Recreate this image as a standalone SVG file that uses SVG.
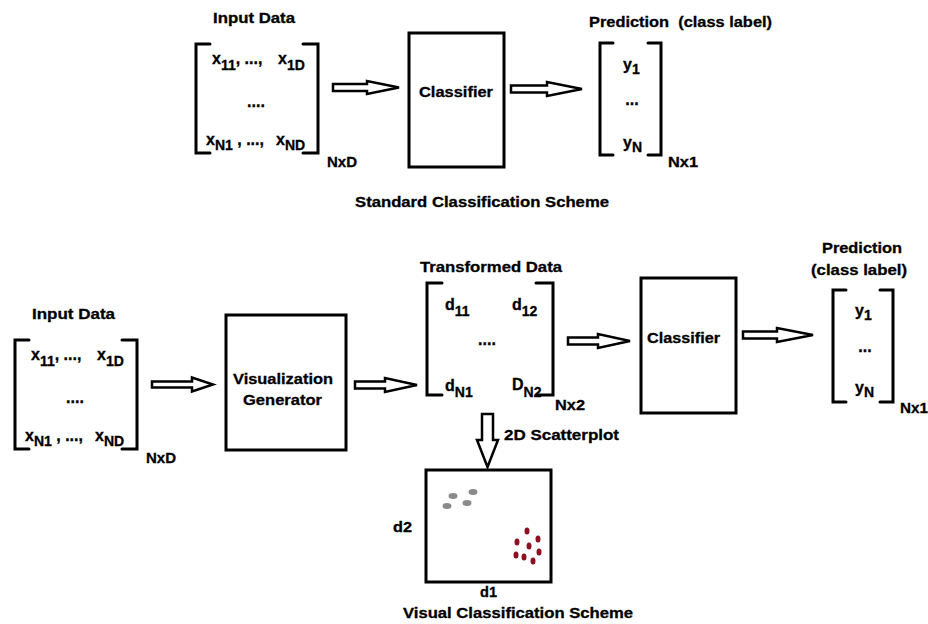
<svg xmlns="http://www.w3.org/2000/svg" width="928" height="624" viewBox="0 0 928 624">
  <defs>
    <style>
      text { font-family: "Liberation Sans", Arial, sans-serif; font-weight: bold; fill: #000; stroke: #000; stroke-width: 0.3; }
      .lbl { font-size: 15px; }
      .m { font-size: 16px; }
      .sb { font-size: 14px; }
      .box { fill: #fff; stroke: #000; stroke-width: 3; }
      .brk { fill: none; stroke: #000; stroke-width: 3; stroke-linecap: round; stroke-linejoin: miter; }
      .arw { fill: #fff; stroke: #000; stroke-width: 2.5; stroke-linejoin: miter; }
      .g { fill: #8a8a8a; }
      .r { fill: #8e0f22; }
    </style>
    <!-- input matrix N x D, reused for both schemes -->
    <g id="inputMatrix">
      <path class="brk" d="M210,44 H196 V153 H210"/>
      <path class="brk" d="M303,44 H318 V153 H303"/>
      <text class="m" x="212" y="64">x<tspan class="sb" dy="6">11</tspan><tspan dy="-6">, ...,</tspan></text>
      <text class="m" x="278" y="64">x<tspan class="sb" dy="6">1D</tspan></text>
      <text class="m" x="256" y="107" text-anchor="middle">....</text>
      <text class="m" x="206" y="145">x<tspan class="sb" dy="5">N1</tspan><tspan dy="-5"> , ...,</tspan></text>
      <text class="m" x="276" y="145">x<tspan class="sb" dy="5">ND</tspan></text>
      <text class="lbl" x="327" y="167" textLength="30" lengthAdjust="spacingAndGlyphs">NxD</text>
    </g>
  </defs>

  <!-- Standard classification scheme -->
  <g id="std-input">
    <text class="lbl" x="213" y="23" textLength="82" lengthAdjust="spacingAndGlyphs">Input Data</text>
    <use href="#inputMatrix"/>
  </g>

  <g id="std-classifier">
    <rect class="box" x="409" y="33" width="95" height="134"/>
    <text class="lbl" x="419" y="97" textLength="74" lengthAdjust="spacingAndGlyphs">Classifier</text>
  </g>

  <g id="std-prediction">
    <text class="lbl" x="589" y="27" textLength="183" lengthAdjust="spacingAndGlyphs" xml:space="preserve">Prediction  (class label)</text>
    <path class="brk" d="M613,43 H600 V155 H613"/>
    <path class="brk" d="M648,43 H661 V155 H648"/>
    <text class="m" x="623" y="70">y<tspan class="sb" dy="4">1</tspan></text>
    <text class="m" x="632" y="105" text-anchor="middle">...</text>
    <text class="m" x="623" y="148">y<tspan class="sb" dy="4">N</tspan></text>
    <text class="lbl" x="668" y="167" textLength="30" lengthAdjust="spacingAndGlyphs">Nx1</text>
  </g>

  <g id="std-caption">
    <text class="lbl" x="355" y="207" textLength="254" lengthAdjust="spacingAndGlyphs">Standard Classification Scheme</text>
  </g>

  <!-- Visual classification scheme -->
  <g id="vis-input">
    <text class="lbl" x="32" y="319" textLength="83" lengthAdjust="spacingAndGlyphs">Input Data</text>
    <use href="#inputMatrix" transform="translate(-181,296)"/>
  </g>

  <g id="vis-generator">
    <rect class="box" x="226" y="315" width="120" height="135"/>
    <text class="lbl" x="233" y="384" textLength="100" lengthAdjust="spacingAndGlyphs">Visualization</text>
    <text class="lbl" x="243" y="405" textLength="79" lengthAdjust="spacingAndGlyphs">Generator</text>
  </g>

  <g id="vis-transformed">
    <text class="lbl" x="420" y="272" textLength="142" lengthAdjust="spacingAndGlyphs">Transformed Data</text>
    <path class="brk" d="M442,283 H427 V395 H442"/>
    <path class="brk" d="M536,283 H553 V395 H536"/>
    <text class="m" x="445" y="310">d<tspan class="sb" dy="6">11</tspan></text>
    <text class="m" x="512" y="310">d<tspan class="sb" dy="6">12</tspan></text>
    <text class="m" x="487" y="345" text-anchor="middle">....</text>
    <text class="m" x="445" y="391">d<tspan class="sb" dy="6">N1</tspan></text>
    <text class="m" x="512" y="390">D<tspan class="sb" dy="7">N2</tspan></text>
    <text class="lbl" x="555" y="410" textLength="30" lengthAdjust="spacingAndGlyphs">Nx2</text>
  </g>

  <g id="vis-classifier">
    <rect class="box" x="641" y="278" width="95" height="135"/>
    <text class="lbl" x="647" y="343" textLength="73" lengthAdjust="spacingAndGlyphs">Classifier</text>
  </g>

  <g id="vis-prediction">
    <text class="lbl" x="862" y="253" text-anchor="middle" textLength="80" lengthAdjust="spacingAndGlyphs">Prediction</text>
    <text class="lbl" x="859" y="275" text-anchor="middle" textLength="96" lengthAdjust="spacingAndGlyphs">(class label)</text>
    <path class="brk" d="M846,290 H833 V402 H846"/>
    <path class="brk" d="M880,290 H893 V402 H880"/>
    <text class="m" x="855" y="316">y<tspan class="sb" dy="4">1</tspan></text>
    <text class="m" x="865" y="352" text-anchor="middle">...</text>
    <text class="m" x="855" y="393">y<tspan class="sb" dy="4">N</tspan></text>
    <text class="lbl" x="900" y="413" textLength="28" lengthAdjust="spacingAndGlyphs">Nx1</text>
  </g>

  <g id="vis-scatterplot">
    <rect class="box" x="426" y="470" width="125" height="112"/>
    <ellipse class="g" cx="453" cy="496" rx="4.5" ry="3"/>
    <ellipse class="g" cx="473" cy="492" rx="4.5" ry="3"/>
    <ellipse class="g" cx="447" cy="506" rx="4.5" ry="3"/>
    <ellipse class="g" cx="467" cy="503" rx="4.5" ry="3"/>
    <ellipse class="r" cx="527" cy="531" rx="2.5" ry="3.5"/>
    <ellipse class="r" cx="517" cy="542" rx="2.5" ry="3.5"/>
    <ellipse class="r" cx="538" cy="539" rx="2.5" ry="3.5"/>
    <ellipse class="r" cx="529" cy="546" rx="2.5" ry="3.5"/>
    <ellipse class="r" cx="516" cy="555" rx="2.5" ry="3.5"/>
    <ellipse class="r" cx="539" cy="552" rx="2.5" ry="3.5"/>
    <ellipse class="r" cx="524" cy="557" rx="2.5" ry="3.5"/>
    <ellipse class="r" cx="533" cy="561" rx="2.5" ry="3.5"/>
    <text class="lbl" x="393" y="532" textLength="19" lengthAdjust="spacingAndGlyphs">d2</text>
    <text class="lbl" x="480" y="597" textLength="17" lengthAdjust="spacingAndGlyphs">d1</text>
    <text class="lbl" x="504" y="440" textLength="115" lengthAdjust="spacingAndGlyphs">2D Scatterplot</text>
  </g>

  <g id="vis-caption">
    <text class="lbl" x="403" y="618" textLength="230" lengthAdjust="spacingAndGlyphs">Visual Classification Scheme</text>
  </g>

  <!-- block arrows between stages -->
  <g id="connectors">
    <path class="arw" d="M333,84 H367 V81 L399,87.5 L367,94 V91 H333 Z"/>
    <path class="arw" d="M511,85.5 H547 V82 L582,89 L547,96 V92.5 H511 Z"/>
    <path class="arw" d="M152,381.5 H192 V377.5 L213,384.5 L192,391.5 V387.5 H152 Z"/>
    <path class="arw" d="M355,381.5 H385 V378 L417,385 L385,392 V388.5 H355 Z"/>
    <path class="arw" d="M568,337.5 H598 V334 L630,341 L598,348 V344.5 H568 Z"/>
    <path class="arw" d="M743,331.5 H777 V328 L813,335 L777,342 V338.5 H743 Z"/>
    <path class="arw" d="M482,414 H493 V440 H498 L487.5,467 L477,440 H482 Z"/>
  </g>
</svg>
